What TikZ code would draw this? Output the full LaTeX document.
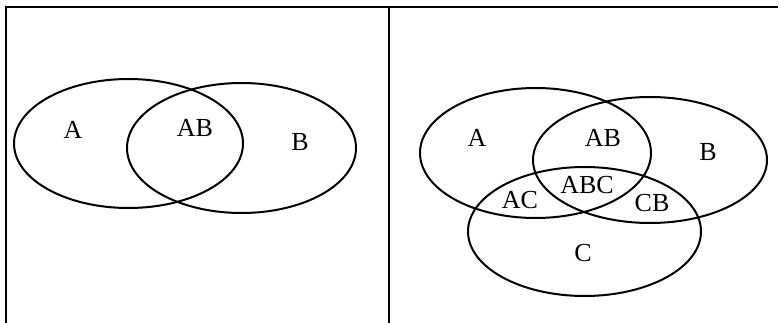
\documentclass[tikz,border=0pt]{standalone}
\usepackage{fontspec}
\setmainfont{Liberation Serif}
\begin{document}
\begin{tikzpicture}[x=1pt,y=-1pt,
  frame/.style={line width=2pt},
  venn/.style={line width=2pt},
  lbl/.style={font=\fontsize{26}{26}\selectfont, inner sep=0pt}]
\useasboundingbox (0,0) rectangle (780,323);
% frames
\coordinate (f1) at (5.5,323);
\coordinate (f2) at (5.5,7);
\coordinate (f3) at (778,7);
\coordinate (m1) at (389,7);
\coordinate (m2) at (389,323);
\draw[frame] (f1) -- (f2) -- (f3);
\draw[frame] (m1) -- (m2);
% left Venn
\draw[venn] (128.5,143.5) ellipse [x radius=114.5, y radius=64.5];
\draw[venn] (241.5,148) ellipse [x radius=114.5, y radius=65];
\node[lbl] (la) at (73,130) {A};
\node[lbl] (lab) at (195,128) {AB};
\node[lbl] (lb) at (300,142) {B};
% right Venn
\draw[venn] (535.5,153) ellipse [x radius=115.5, y radius=65];
\draw[venn] (650,160) ellipse [x radius=117, y radius=63];
\draw[venn] (584.5,231.5) ellipse [x radius=116.5, y radius=64.5];
\node[lbl] (ra) at (477,138) {A};
\node[lbl] (rab) at (603,138) {AB};
\node[lbl] (rb) at (708,152) {B};
\node[lbl] (rabc) at (587,185) {ABC};
\node[lbl] (rac) at (520,200) {AC};
\node[lbl] (rcb) at (652,203) {CB};
\node[lbl] (rc) at (583,253) {C};
\end{tikzpicture}
\end{document}
